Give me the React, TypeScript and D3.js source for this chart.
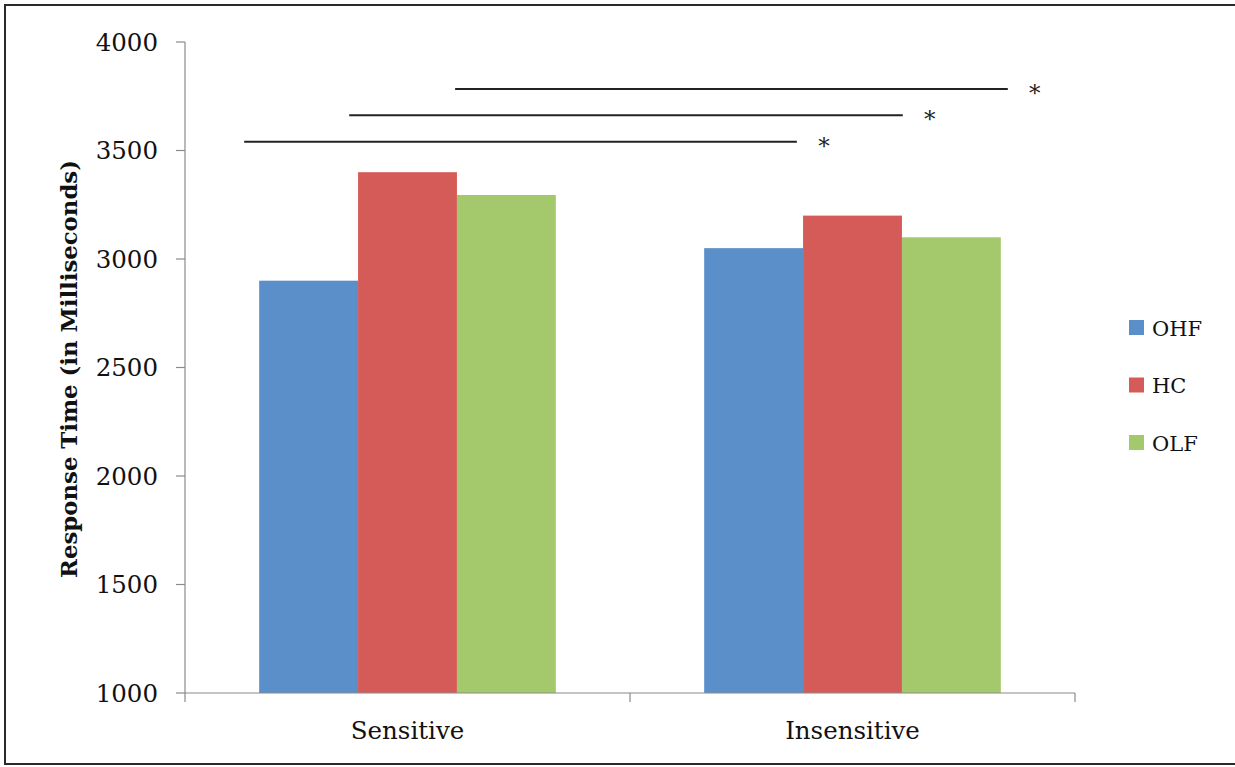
import React from "react";
import * as d3 from "d3";

const categories = ["Sensitive", "Insensitive"];
const seriesNames = ["OHF", "HC", "OLF"];
const seriesColors = ["#5b8fc9", "#d55b58", "#a3c96c"];
const ohfValues = [2900, 3050];
const hcValues = [3400, 3200];
const olfValues = [3295, 3100];
const yTicks = [1000, 1500, 2000, 2500, 3000, 3500, 4000];
// significance brackets: start/end in category units (0..2), level in ms
const sigStart = [0.133, 0.369, 0.607];
const sigEnd = [1.375, 1.613, 1.849];
const sigLevel = [3540, 3663, 3783];

const W = 1235;
const H = 767;
const FONT = "'DejaVu Serif', serif";

export default function App() {
  const x0 = 185, x1 = 1075, y0 = 693, y1 = 42;
  const y = d3.scaleLinear().domain([1000, 4000]).range([y0, y1]);
  const xc = d3.scaleLinear().domain([0, 2]).range([x0, x1]);
  const band = d3.scaleBand<string>().domain(categories).range([x0, x1]);
  const inner = d3
    .scaleBand<string>()
    .domain(seriesNames)
    .range([0, band.bandwidth()])
    .paddingOuter(0.75)
    .paddingInner(0);
  const series = [ohfValues, hcValues, olfValues];

  return (
    <svg
      width={W}
      height={H}
      style={{ position: "absolute", left: 0, top: 0, display: "block", background: "#fff" }}
    >
      <rect x={5} y={5} width={W + 10} height={759} fill="#fff" stroke="#2a2a2a" strokeWidth={2} />
      {/* bars */}
      {categories.map((c, ci) =>
        seriesNames.map((s, si) => (
          <rect
            key={c + s}
            x={(band(c) as number) + (inner(s) as number)}
            y={y(series[si][ci])}
            width={inner.bandwidth()}
            height={y0 - y(series[si][ci])}
            fill={seriesColors[si]}
          />
        ))
      )}
      {/* y axis */}
      <line x1={x0} x2={x0} y1={y1} y2={y0} stroke="#8a8a8a" strokeWidth={1.2} />
      {yTicks.map((t) => (
        <g key={t}>
          <line x1={x0 - 9} x2={x0} y1={y(t)} y2={y(t)} stroke="#8a8a8a" strokeWidth={1.2} />
          <text
            x={x0 - 27}
            y={y(t)}
            dy="0.35em"
            textAnchor="end"
            fontFamily={FONT}
            fontSize={24.5}
            fill="#111"
          >
            {t}
          </text>
        </g>
      ))}
      {/* x axis */}
      <line x1={x0} x2={x1} y1={y0} y2={y0} stroke="#8a8a8a" strokeWidth={1.2} />
      {[0, 1, 2].map((i) => (
        <line key={i} x1={xc(i)} x2={xc(i)} y1={y0} y2={y0 + 9} stroke="#8a8a8a" strokeWidth={1.2} />
      ))}
      {categories.map((c) => (
        <text
          key={c}
          x={(band(c) as number) + band.bandwidth() / 2}
          y={739}
          textAnchor="middle"
          fontFamily={FONT}
          fontSize={24.5}
          fill="#111"
        >
          {c}
        </text>
      ))}
      {/* y title */}
      <text
        transform={`translate(77,${369}) rotate(-90)`}
        textAnchor="middle"
        fontFamily={FONT}
        fontWeight="bold"
        fontSize={22.8}
        fill="#111"
      >
        Response Time (in Milliseconds)
      </text>
      {/* significance lines */}
      {sigStart.map((s, i) => (
        <g key={i}>
          <line x1={xc(s)} x2={xc(sigEnd[i])} y1={y(sigLevel[i])} y2={y(sigLevel[i])} stroke="#222" strokeWidth={2} />
          <text
            x={xc(sigEnd[i]) + 27}
            y={y(sigLevel[i]) + 12}
            textAnchor="middle"
            fontFamily={FONT}
            fontSize={23}
            fill="#222"
          >
            *
          </text>
        </g>
      ))}
      {/* legend */}
      {seriesNames.map((s, i) => (
        <g key={s} transform={`translate(1129,${320 + i * 57.5})`}>
          <rect x={0} y={0} width={15} height={15} fill={seriesColors[i]} />
          <text x={23} y={8} dy="0.36em" fontFamily={FONT} fontSize={21} fill="#111">
            {s}
          </text>
        </g>
      ))}
    </svg>
  );
}
